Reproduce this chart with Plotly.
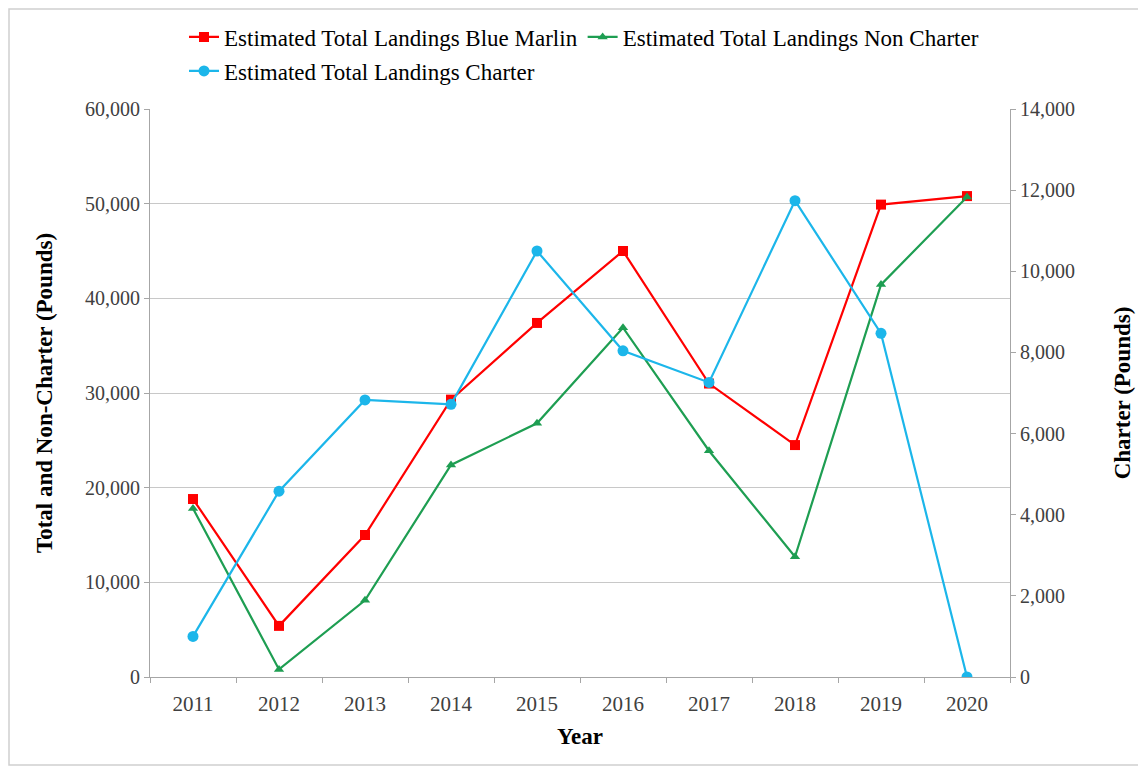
import plotly.graph_objects as go

years = ["2011", "2012", "2013", "2014", "2015", "2016", "2017", "2018", "2019", "2020"]
blue_marlin_total = [18800, 5400, 15000, 29300, 37400, 45000, 31000, 24500, 49900, 50800]
non_charter = [17800, 800, 8100, 22400, 26800, 36900, 23900, 12700, 41450, 50700]
charter = [1000, 4580, 6830, 6720, 10500, 8040, 7260, 11740, 8470, 0]

left_ticks = [0, 10000, 20000, 30000, 40000, 50000, 60000]
right_ticks = [0, 2000, 4000, 6000, 8000, 10000, 12000, 14000]

RED = "#FF0000"
GREEN = "#1E9E52"
BLUE = "#1CB6EA"
FONT = "Liberation Serif"
# the page body has an 8px margin, so the figure is drawn 8px smaller
W, H = 1138, 762
PL, PR, PT, PB = 142, 1002, 101, 669  # plot area in figure pixels

fig = go.Figure()
fig.add_trace(go.Scatter(
    x=years, y=blue_marlin_total, name="Estimated Total Landings Blue Marlin",
    mode="lines+markers", line=dict(color=RED, width=2.2),
    marker=dict(symbol="square", size=10, color=RED), legend="legend"))
fig.add_trace(go.Scatter(
    x=years, y=non_charter, name="Estimated Total Landings Non Charter",
    mode="lines+markers", line=dict(color=GREEN, width=2.2),
    marker=dict(symbol="triangle-up", size=9, color=GREEN), legend="legend"))
fig.add_trace(go.Scatter(
    x=years, y=charter, name="Estimated Total Landings Charter", yaxis="y2",
    mode="lines+markers", line=dict(color=BLUE, width=2.2),
    marker=dict(symbol="circle", size=11, color=BLUE), legend="legend2"))

axis_common = dict(showline=True, linecolor="#A6A6A6", linewidth=1,
                   ticks="outside", ticklen=5, tickcolor="#A6A6A6", automargin=False)

pw, ph = PR - PL, PB - PT

fig.update_layout(
    width=W, height=H,
    margin=dict(l=PL, r=W - PR, t=PT, b=H - PB),
    paper_bgcolor="white", plot_bgcolor="white",
    font=dict(family=FONT, color="black"),
    xaxis=dict(type="category", tickson="boundaries", ticklabelstandoff=8,
               range=[-0.5, len(years) - 0.5],
               tickfont=dict(family=FONT, size=21, color="#404040"),
               title=dict(text="<b>Year</b>", font=dict(family=FONT, size=23, color="black"), standoff=12),
               showgrid=False, **axis_common),
    yaxis=dict(range=[0, 60000], tickvals=left_ticks, tickformat=",d",
               tickfont=dict(family=FONT, size=20, color="#404040"),
               showgrid=True, gridcolor="#C8C8C8", gridwidth=1, zeroline=False,
               title=dict(text="<b>Total and Non-Charter (Pounds)</b>",
                          font=dict(family=FONT, size=23, color="black"), standoff=25),
               **axis_common),
    yaxis2=dict(range=[0, 14000], tickvals=right_ticks, tickformat=",d",
                tickfont=dict(family=FONT, size=20, color="#404040"),
                overlaying="y", side="right", showgrid=False, zeroline=False,
                title=dict(text="<b>Charter (Pounds)</b>",
                           font=dict(family=FONT, size=23, color="black"), standoff=39),
                **axis_common),
    legend=dict(orientation="h", xref="container", yref="container",
                x=176 / W, xanchor="left", y=1 - 29 / H, yanchor="middle",
                font=dict(family=FONT, size=23, color="black"),
                bgcolor="rgba(0,0,0,0)", itemwidth=30),
    legend2=dict(orientation="h", xref="container", yref="container",
                 x=176 / W, xanchor="left", y=1 - 63 / H, yanchor="middle",
                 font=dict(family=FONT, size=23, color="black"),
                 bgcolor="rgba(0,0,0,0)", itemwidth=30),
    showlegend=True,
    shapes=[dict(type="rect", xref="paper", yref="paper",
                 x0=(1 - PL) / pw, x1=(1136 - PL) / pw,
                 y0=(PB - 757) / ph, y1=(PB - 1) / ph,
                 line=dict(color="#D0D0D0", width=1.5), fillcolor="rgba(0,0,0,0)", layer="below")],
)

fig.write_html("out.html")
